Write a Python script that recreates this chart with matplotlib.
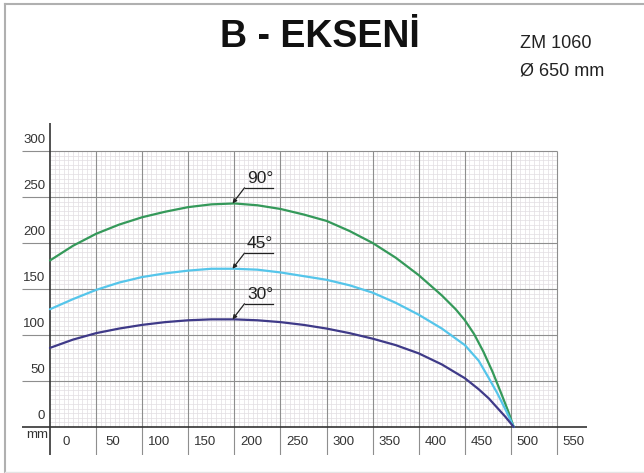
import numpy as np
import matplotlib.pyplot as plt
from matplotlib.lines import Line2D

plt.rcParams['font.family'] = ['Liberation Sans', 'DejaVu Sans']

# B axis load curves (mm / kg)
x90 = [0, 25, 50, 75, 100, 125, 150, 175, 200, 225, 250, 275, 300, 325, 350,
       375, 400, 425, 440, 450, 460, 470, 480, 490, 497, 503]
b90 = [181, 197, 210, 220, 228, 234, 239, 242, 243, 241, 237, 231, 224, 213, 200,
       184, 165, 143, 128, 116, 101, 82, 60, 35, 17, 0]
x45 = [0, 25, 50, 75, 100, 125, 150, 175, 200, 225, 250, 275, 300, 325, 350,
       375, 400, 425, 450, 465, 476, 485, 494, 503]
b45 = [128, 139, 149, 157, 163, 167, 170, 172, 172, 171, 168, 164, 160, 154, 146,
       135, 122, 107, 89, 72, 53, 37, 19, 0]
x30 = [0, 25, 50, 75, 100, 125, 150, 175, 200, 225, 250, 275, 300, 325, 350,
       375, 400, 425, 450, 465, 476, 485, 494, 503]
b30 = [86, 95, 102, 107, 111, 114, 116, 117, 117, 116, 114, 111, 107, 102, 96,
       89, 80, 68, 53, 41, 31, 21, 11, 0]
angle_labels = ['90°', '45°', '30°']
curve_colors = ['#35995a', '#55c5ea', '#3f3a88']

x_ticks = list(range(0, 551, 50))
y_ticks = list(range(0, 301, 50))

fig = plt.figure(figsize=(6.44, 4.73), dpi=100)

# light frame around the sheet
frame = '#b0b0b0'
fig.add_artist(Line2D([5 / 644, 5 / 644], [0.5 / 473, 469 / 473], color=frame, lw=1.5))
fig.add_artist(Line2D([5 / 644, 1], [469 / 473, 469 / 473], color=frame, lw=1.5))
fig.add_artist(Line2D([5 / 644, 1], [1.5 / 473, 1.5 / 473], color='#e4e4e4', lw=1))

ax = fig.add_axes([22.3 / 644, 18.4 / 473, 564.3 / 644, 331.2 / 473])
ax.set_xlim(-30, 582)
ax.set_ylim(-30, 330)
ax.axis('off')

# graph-paper grid
minor_x = [v for v in range(5, 550, 5) if v % 50]
minor_y = [v for v in range(5, 300, 5) if v % 50]
ax.vlines(minor_x, 0, 300, colors='#e2dde2', lw=0.5, zorder=1)
ax.hlines(minor_y, 0, 550, colors='#e2dde2', lw=0.5, zorder=1)
ax.vlines(x_ticks[1:], -30, 300, colors='#8e8e8e', lw=0.8, zorder=2)
ax.hlines(y_ticks[1:], -30, 550, colors='#8e8e8e', lw=0.8, zorder=2)
ax.vlines(0, -30, 330, colors='#333333', lw=1.2, zorder=2)
ax.hlines(0, -30, 582, colors='#333333', lw=1.2, zorder=2)

for v in y_ticks:
    ax.text(-5, v + 12, str(v), ha='right', va='center', fontsize=9.5, color='#333333')
for v in x_ticks:
    ax.text(v + 18, -16, str(v), ha='center', va='center', fontsize=9.5, color='#333333')
ax.text(-14, -9, 'mm', ha='center', va='center', fontsize=9.5, color='#333333')

series = [(x90, b90), (x45, b45), (x30, b30)]
label_x = 200
for (xs, ys), lab, col in zip(series, angle_labels, curve_colors):
    ax.plot(xs, ys, color=col, lw=1.6, zorder=3, solid_capstyle='round',
            solid_joinstyle='round')
    y_c = ys[xs.index(label_x)]
    y_u = y_c + 17
    ax.plot([211, 242], [y_u, y_u], color='#222222', lw=0.9, zorder=4)
    ax.annotate('', xy=(198, y_c), xytext=(211, y_u),
                arrowprops=dict(arrowstyle='-|>', color='#222222', lw=0.9,
                                mutation_scale=6, shrinkA=0, shrinkB=0), zorder=4)
    ax.text(228, y_u + 2, lab, ha='center', va='bottom', fontsize=12.5, color='#222222')

fig.text(320 / 644, 1 - 47 / 473, 'B - EKSENİ', ha='center', va='baseline',
         fontsize=27, fontweight='bold', color='#111111')
fig.text(520 / 644, 1 - 48 / 473, 'ZM 1060', ha='left', va='baseline', fontsize=13, color='#222222')
fig.text(520 / 644, 1 - 75 / 473, 'Ø 650 mm', ha='left', va='baseline', fontsize=13, color='#222222')

fig.savefig('out.png', dpi=100)
